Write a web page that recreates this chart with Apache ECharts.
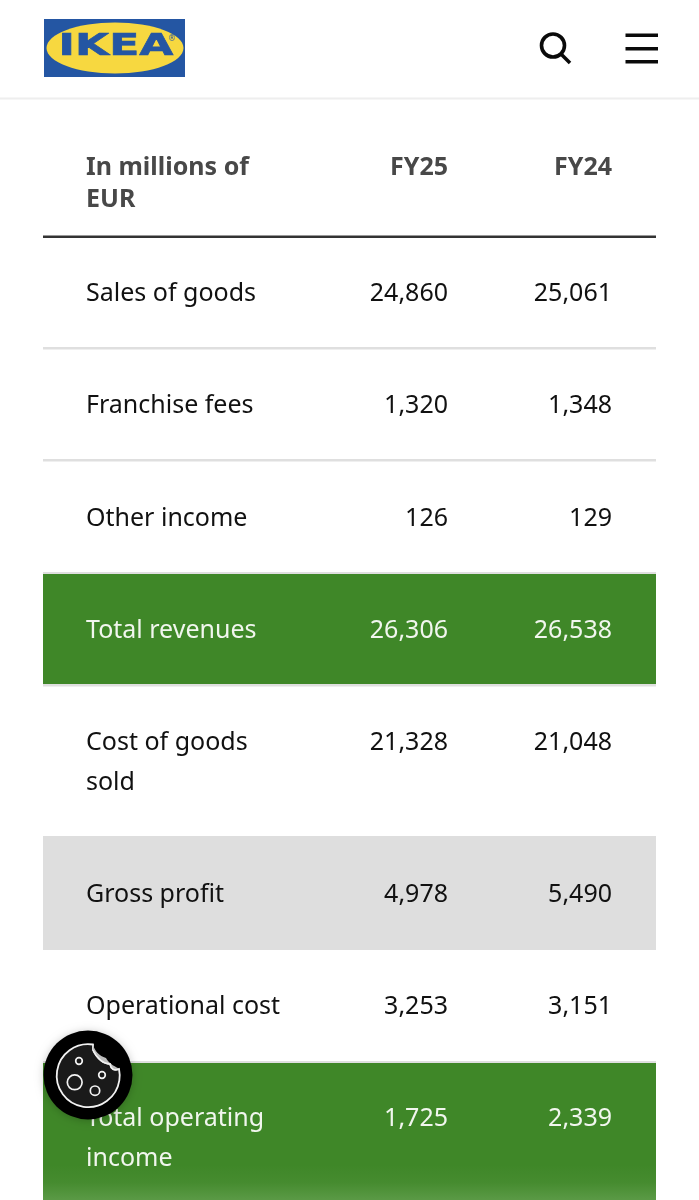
<!DOCTYPE html>
<html>
<head>
<meta charset="utf-8">
<style>html,body{margin:0;padding:0;background:#fff}#c{width:699px;height:1200px}</style>
<script src="https://cdn.jsdelivr.net/npm/echarts@6/dist/echarts.min.js"></script>
</head>
<body>
<div id="c"></div>
<script>
const headers = ['In millions of\nEUR', 'FY25', 'FY24'];
const categories = ['Sales of goods', 'Franchise fees', 'Other income', 'Total revenues', 'Cost of goods\nsold', 'Gross profit', 'Operational cost', 'Total operating\nincome'];
const fy25 = [24860, 1320, 126, 26306, 21328, 4978, 3253, 1725];
const fy24 = [25061, 1348, 129, 26538, 21048, 5490, 3151, 2339];
const rowKinds = ['plain', 'plain', 'plain', 'total', 'plain', 'sub', 'plain', 'total'];

// layout (page pixels)
const rowTops = [237, 349, 461, 574, 686, 836, 950, 1063];
const rowBottoms = [348, 460, 573, 684, 836, 950, 1062, 1260];
const textCentres = [294.5, 406.5, 519.5, 631.5, 743.5, 895.5, 1007.5, 1119.5];
const FONT = '"Noto Sans", sans-serif';
const SIZE = 25;
const L = 43, R = 656, TX = 86, C1 = 448, C2 = 612;
const fmt = v => v.toLocaleString('en-US');

function renderRow(params, api) {
  const i = api.value(0);
  const kind = rowKinds[i];
  const [x0, y0] = api.coord([L, rowTops[i]]);
  const [x1, y1] = api.coord([R, rowBottoms[i]]);
  const tc = kind === 'total' ? '#f1f6ee' : '#111111';
  const children = [];
  if (kind === 'sub') {
    children.push({ type: 'rect', shape: { x: x0, y: y0, width: x1 - x0, height: y1 - y0 },
      style: { fill: '#dedede' } });
  } else if (rowKinds[i + 1] !== 'sub') {
    // row rule, sits just under the row (and beneath a following green band)
    children.push({ type: 'rect', shape: { x: x0, y: kind === 'total' ? y1 : y1 - 1, width: x1 - x0, height: 2.4 },
      style: { fill: '#dfdfdf' } });
  }
  if (kind === 'total') {
    children.push({ type: 'rect', shape: { x: x0, y: y0, width: x1 - x0, height: y1 - y0 },
      style: { fill: '#3f8728' } });
  }
  const firstLine = textCentres[i];
  children.push({ type: 'text', x: TX, y: firstLine - 20,
    style: { text: categories[i], font: `400 ${SIZE}px ${FONT}`, fill: tc,
      lineHeight: 39.5, verticalAlign: 'top', align: 'left' } });
  children.push({ type: 'text', x: C1, y: firstLine - 0.8,
    style: { text: fmt(fy25[i]), font: `400 ${SIZE}px ${FONT}`, fill: tc, align: 'right', verticalAlign: 'middle' } });
  children.push({ type: 'text', x: C2, y: firstLine - 0.8,
    style: { text: fmt(fy24[i]), font: `400 ${SIZE}px ${FONT}`, fill: tc, align: 'right', verticalAlign: 'middle' } });
  return { type: 'group', children };
}

function renderCookie() {
  const line = '#f2f2f2';
  const hole = (cx, cy, r) => ({ type: 'circle', shape: { cx, cy, r }, style: { fill: 'none', stroke: line, lineWidth: 1.7 } });
  return { type: 'group', children: [
    { type: 'circle', shape: { cx: 88, cy: 1075, r: 44.5 },
      style: { fill: '#000000', shadowBlur: 8, shadowColor: 'rgba(0,0,0,0.22)', shadowOffsetY: 1 } },
    { type: 'path', shape: { pathData: 'M93 1044.5 A31.5 31.5 0 1 0 119 1069 C114 1071 111 1069 110 1064 C104 1064 97 1059 93 1050 Z' },
      style: { fill: '#1a1a1a', stroke: line, lineWidth: 1.8 } },
    { type: 'path', shape: { pathData: 'M93 1045 C95 1051 99 1056 106 1058 C108 1062 113 1066 119 1068.5 C114 1070 111 1069 110 1064 C104 1064 97 1059 93 1050 Z' },
      style: { fill: '#bdbdbd' } },
    { type: 'path', shape: { pathData: 'M119 1069 C114 1071 111 1069 110 1064 C104 1064 97 1059 93 1050' },
      style: { fill: 'none', stroke: line, lineWidth: 1.4 } },
    hole(79, 1061, 3.3), hole(102, 1075, 3.3), hole(95, 1090.7, 4.7), hole(74.7, 1082.3, 7.4)
  ] };
}

const chart = echarts.init(document.getElementById('c'), null, { renderer: 'canvas' });
chart.setOption({
  animation: false,
  backgroundColor: '#ffffff',
  grid: { left: 0, right: 0, top: 0, bottom: 0 },
  xAxis: { type: 'value', min: 0, max: 699, show: false },
  yAxis: { type: 'value', min: 0, max: 1200, inverse: true, show: false },
  series: [{
    type: 'custom', coordinateSystem: 'cartesian2d', clip: true, silent: true,
    renderItem: renderRow, encode: { x: 0, y: 0 },
    data: categories.map((c, i) => [i])
  }, {
    type: 'custom', coordinateSystem: 'cartesian2d', clip: false, silent: true, z: 100,
    renderItem: renderCookie, encode: { x: 0, y: 0 },
    data: [[0]]
  }],
  graphic: { elements: [
    // header strip
    { type: 'rect', z: 50, shape: { x: 0, y: 97.5, width: 699, height: 2 }, style: { fill: '#eeeeee' } },
    // logo
    { type: 'rect', z: 50, shape: { x: 44, y: 19, width: 141, height: 58 }, style: { fill: '#2456a3' } },
    { type: 'ellipse', z: 51, shape: { cx: 115, cy: 48, rx: 68.5, ry: 25.5 }, style: { fill: '#f7d840' } },
    { type: 'text', z: 52, x: 116, y: 47.5, scaleX: 1.47,
      style: { text: 'IKEA', font: 'bold 30px "DejaVu Sans"', fill: '#2456a3', stroke: '#2456a3', lineWidth: 0.6, align: 'center', verticalAlign: 'middle' } },
    { type: 'text', z: 52, x: 172, y: 39,
      style: { text: '®', font: '8px "DejaVu Sans"', fill: '#2456a3', align: 'center', verticalAlign: 'middle' } },
    // search icon
    { type: 'circle', z: 50, shape: { cx: 553, cy: 45.5, r: 11.5 }, style: { fill: 'none', stroke: '#0a0a0a', lineWidth: 3.6 } },
    { type: 'line', z: 50, shape: { x1: 561, y1: 54, x2: 570, y2: 63 }, style: { stroke: '#0a0a0a', lineWidth: 3.6 } },
    // menu icon
    { type: 'rect', z: 50, shape: { x: 625.5, y: 33.5, width: 32.5, height: 3.6 }, style: { fill: '#0a0a0a' } },
    { type: 'rect', z: 50, shape: { x: 625.5, y: 47, width: 32.5, height: 3.6 }, style: { fill: '#0a0a0a' } },
    { type: 'rect', z: 50, shape: { x: 625.5, y: 60, width: 32.5, height: 3.6 }, style: { fill: '#0a0a0a' } },
    // table head
    { type: 'text', z: 50, x: TX, y: 151.5,
      style: { text: headers[0], font: `700 25px ${FONT}`, fill: '#484848', lineHeight: 32.5, verticalAlign: 'top' } },
    { type: 'text', z: 50, x: C1, y: 167.5,
      style: { text: headers[1], font: `700 25px ${FONT}`, fill: '#484848', align: 'right', verticalAlign: 'middle' } },
    { type: 'text', z: 50, x: C2, y: 167.5,
      style: { text: headers[2], font: `700 25px ${FONT}`, fill: '#484848', align: 'right', verticalAlign: 'middle' } },
    { type: 'rect', z: 50, shape: { x: L, y: 235.5, width: R - L, height: 2.4 }, style: { fill: '#333333' } },
    // bottom fade on last band
    { type: 'rect', z: 60, shape: { x: L, y: 1165, width: R - L, height: 35 },
      style: { fill: { type: 'linear', x: 0, y: 0, x2: 0, y2: 1, colorStops: [
        { offset: 0, color: 'rgba(100,160,80,0)' }, { offset: 0.5, color: 'rgba(100,160,80,0.18)' }, { offset: 1, color: 'rgba(100,160,80,0.75)' } ] } } }
  ] }
});
</script>
</body>
</html>
